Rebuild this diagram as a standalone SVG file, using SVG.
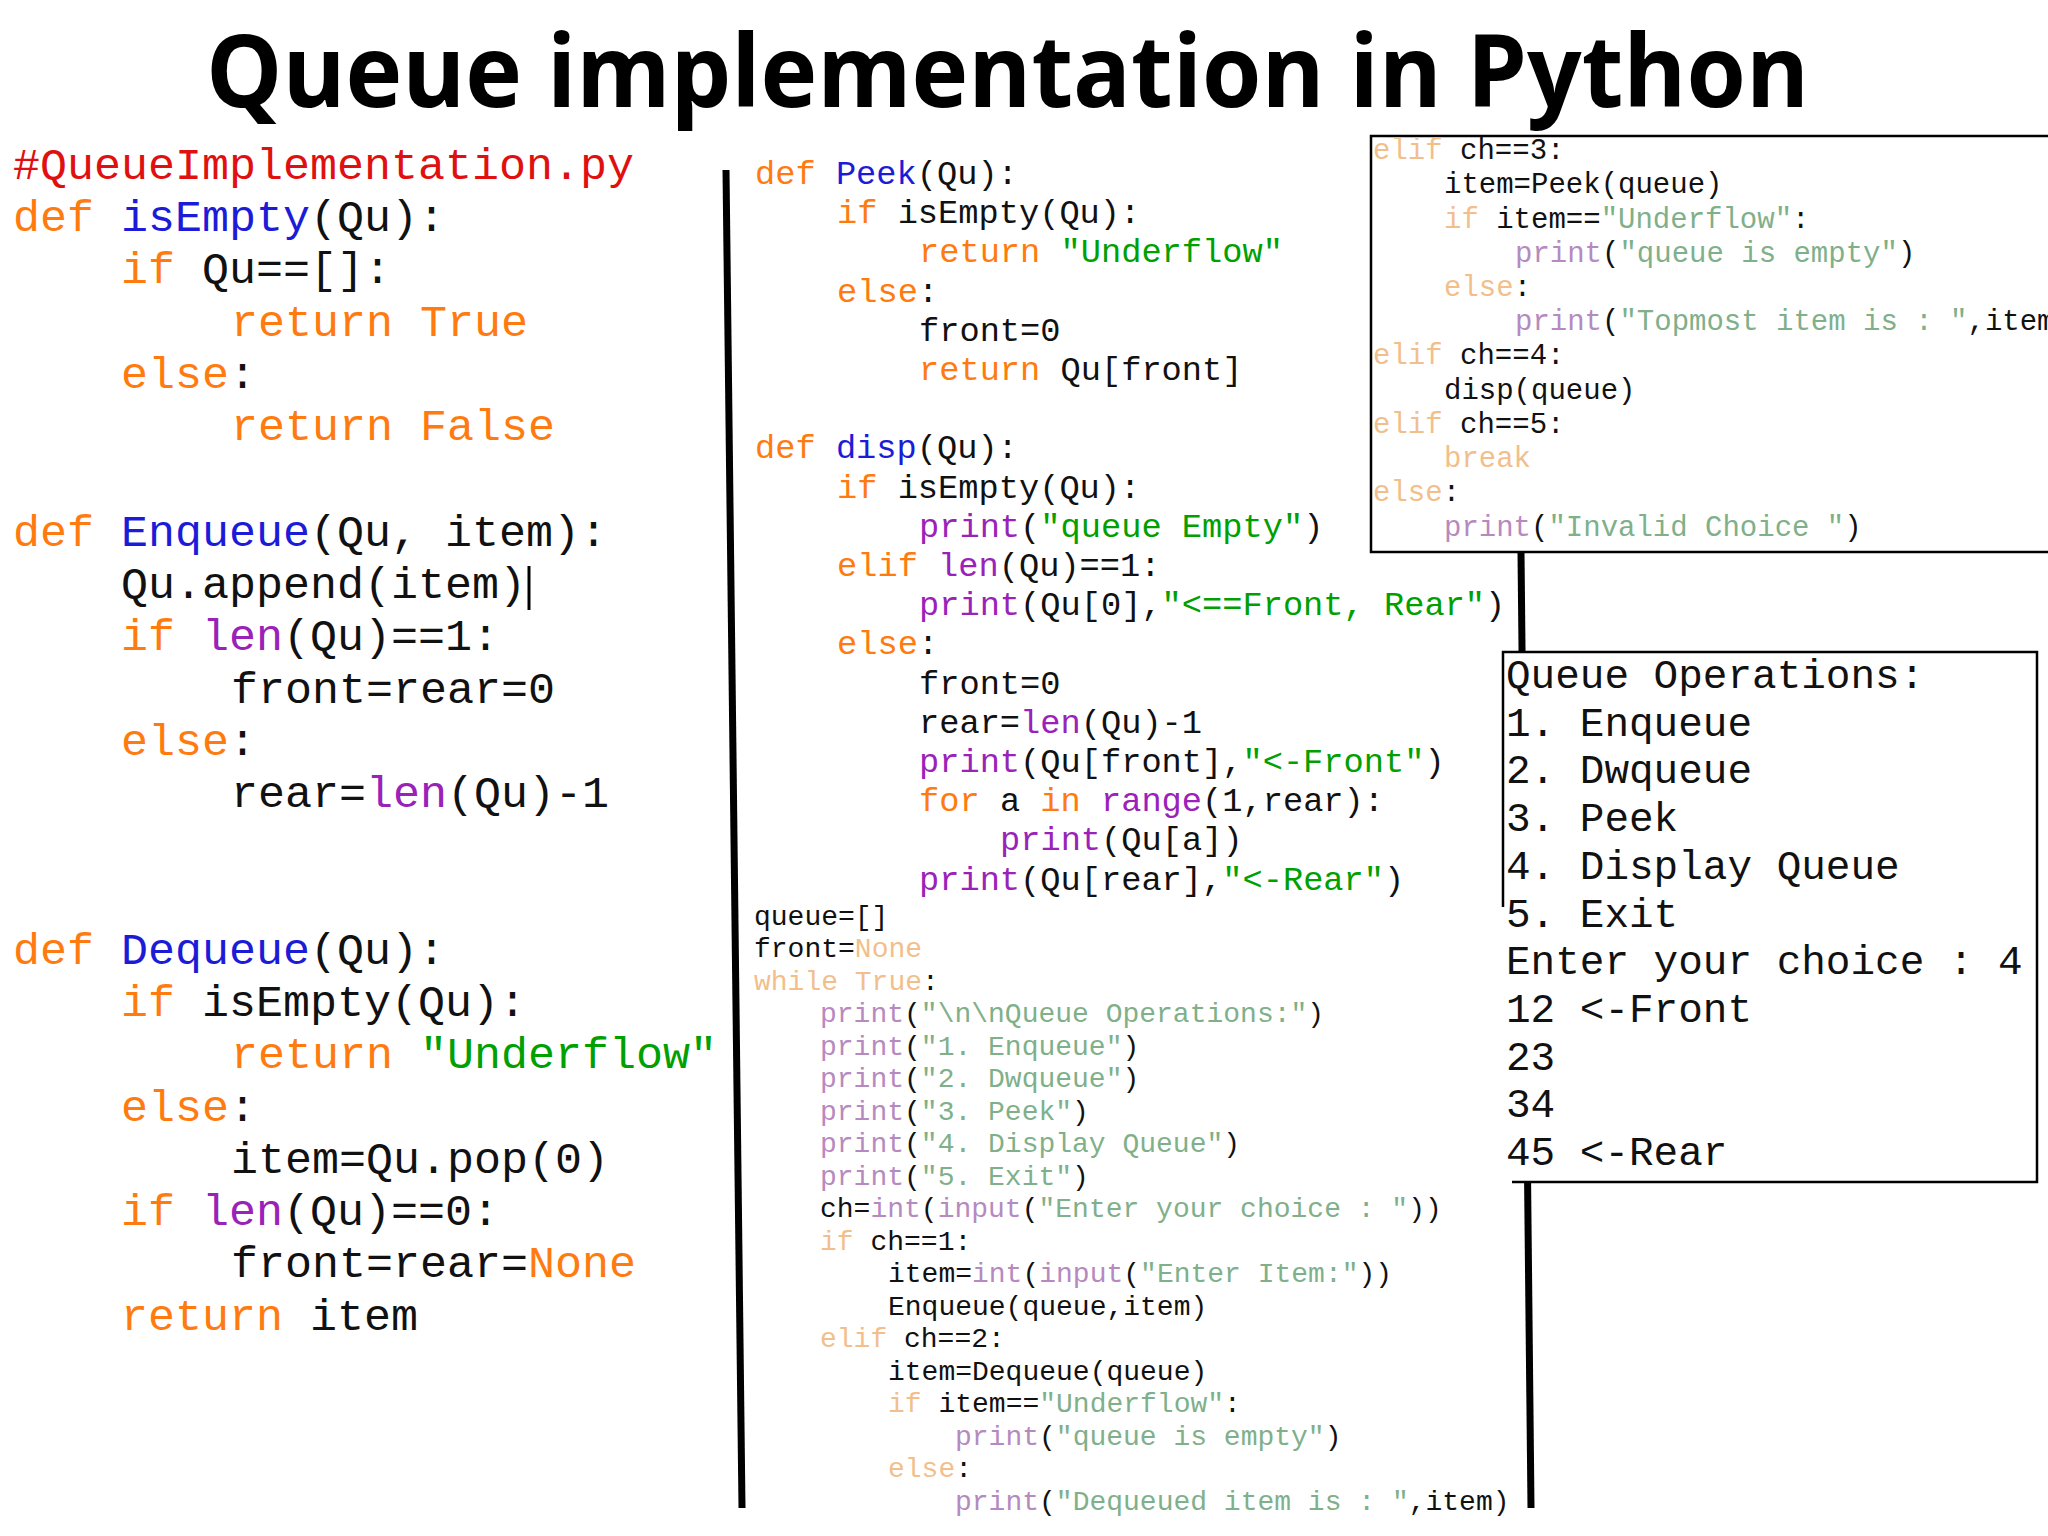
<svg xmlns="http://www.w3.org/2000/svg" width="2048" height="1536" viewBox="0 0 2048 1536">
<style>
text{font-family:"Liberation Mono","Courier New",monospace;fill:#111;white-space:pre}
.L{font-size:45px}
.M{font-size:33.7px}
.S{font-size:28px;fill:#444}
.R{font-size:29px;fill:#444}
.O{font-size:41px;fill:#1a1aff}
.k{fill:#ff7b10}.f{fill:#1c1cd8}.s{fill:#00a000}.p{fill:#9a22b8}.c{fill:#e01010}
.kf{fill:#f2bf8c}.sf{fill:#7fb08a}.pf{fill:#b68ac0}
.title{font-family:"Open Sans","Liberation Sans",sans-serif;font-weight:bold;font-size:100px;fill:#000}
</style>
<rect width="2048" height="1536" fill="#fff"/>
<text class="title" x="206" y="107" textLength="1603" lengthAdjust="spacingAndGlyphs">Queue implementation in Python</text>

<g id="lines">
<line x1="726" y1="170" x2="742" y2="1508" stroke="#000" stroke-width="7"/>
<line x1="1521" y1="552" x2="1531" y2="1508" stroke="#000" stroke-width="7"/>
</g>

<g id="left-code" class="L">
<text x="13" y="179" class="c">#QueueImplementation.py</text>
<text x="13" y="231"><tspan class="k">def </tspan><tspan class="f">isEmpty</tspan>(Qu):</text>
<text x="121" y="283"><tspan class="k">if </tspan>Qu==[]:</text>
<text x="231" y="336" class="k">return True</text>
<text x="121" y="388"><tspan class="k">else</tspan>:</text>
<text x="231" y="440" class="k">return False</text>
<text x="13" y="546"><tspan class="k">def </tspan><tspan class="f">Enqueue</tspan>(Qu, item):</text>
<text x="121" y="598">Qu.append(item)</text>
<line x1="529" y1="566" x2="529" y2="610" stroke="#000" stroke-width="3"/>
<text x="121" y="650"><tspan class="k">if </tspan><tspan class="p">len</tspan>(Qu)==1:</text>
<text x="231" y="703">front=rear=0</text>
<text x="121" y="755"><tspan class="k">else</tspan>:</text>
<text x="231" y="807">rear=<tspan class="p">len</tspan>(Qu)-1</text>
<text x="13" y="964"><tspan class="k">def </tspan><tspan class="f">Dequeue</tspan>(Qu):</text>
<text x="121" y="1016"><tspan class="k">if </tspan>isEmpty(Qu):</text>
<text x="231" y="1068"><tspan class="k">return </tspan><tspan class="s">"Underflow"</tspan></text>
<text x="121" y="1121"><tspan class="k">else</tspan>:</text>
<text x="231" y="1173">item=Qu.pop(0)</text>
<text x="121" y="1225"><tspan class="k">if </tspan><tspan class="p">len</tspan>(Qu)==0:</text>
<text x="231" y="1277">front=rear=<tspan class="k">None</tspan></text>
<text x="121" y="1330"><tspan class="k">return </tspan>item</text>
</g>

<g id="middle-code" class="M">
<text x="755" y="184"><tspan class="k">def </tspan><tspan class="f">Peek</tspan>(Qu):</text>
<text x="837" y="223"><tspan class="k">if </tspan>isEmpty(Qu):</text>
<text x="919" y="262"><tspan class="k">return </tspan><tspan class="s">"Underflow"</tspan></text>
<text x="837" y="302"><tspan class="k">else</tspan>:</text>
<text x="919" y="341">front=0</text>
<text x="919" y="380"><tspan class="k">return </tspan>Qu[front]</text>
<text x="755" y="458"><tspan class="k">def </tspan><tspan class="f">disp</tspan>(Qu):</text>
<text x="837" y="498"><tspan class="k">if </tspan>isEmpty(Qu):</text>
<text x="919" y="537"><tspan class="p">print</tspan>(<tspan class="s">"queue Empty"</tspan>)</text>
<text x="837" y="576"><tspan class="k">elif </tspan><tspan class="p">len</tspan>(Qu)==1:</text>
<text x="919" y="615"><tspan class="p">print</tspan>(Qu[0],<tspan class="s">"&lt;==Front, Rear"</tspan>)</text>
<text x="837" y="654"><tspan class="k">else</tspan>:</text>
<text x="919" y="694">front=0</text>
<text x="919" y="733">rear=<tspan class="p">len</tspan>(Qu)-1</text>
<text x="919" y="772"><tspan class="p">print</tspan>(Qu[front],<tspan class="s">"&lt;-Front"</tspan>)</text>
<text x="919" y="811"><tspan class="k">for </tspan>a <tspan class="k">in </tspan><tspan class="p">range</tspan>(1,rear):</text>
<text x="1000" y="850"><tspan class="p">print</tspan>(Qu[a])</text>
<text x="919" y="890"><tspan class="p">print</tspan>(Qu[rear],<tspan class="s">"&lt;-Rear"</tspan>)</text>
</g>

<g id="main-loop" class="S">
<text x="754" y="925">queue=[]</text>
<text x="754" y="957">front=<tspan class="kf">None</tspan></text>
<text x="754" y="990"><tspan class="kf">while True</tspan>:</text>
<text x="820" y="1022"><tspan class="pf">print</tspan>(<tspan class="sf">"\n\nQueue Operations:"</tspan>)</text>
<text x="820" y="1055"><tspan class="pf">print</tspan>(<tspan class="sf">"1. Enqueue"</tspan>)</text>
<text x="820" y="1087"><tspan class="pf">print</tspan>(<tspan class="sf">"2. Dwqueue"</tspan>)</text>
<text x="820" y="1120"><tspan class="pf">print</tspan>(<tspan class="sf">"3. Peek"</tspan>)</text>
<text x="820" y="1152"><tspan class="pf">print</tspan>(<tspan class="sf">"4. Display Queue"</tspan>)</text>
<text x="820" y="1185"><tspan class="pf">print</tspan>(<tspan class="sf">"5. Exit"</tspan>)</text>
<text x="820" y="1217">ch=<tspan class="pf">int</tspan>(<tspan class="pf">input</tspan>(<tspan class="sf">"Enter your choice : "</tspan>))</text>
<text x="820" y="1250"><tspan class="kf">if </tspan>ch==1:</text>
<text x="888" y="1282">item=<tspan class="pf">int</tspan>(<tspan class="pf">input</tspan>(<tspan class="sf">"Enter Item:"</tspan>))</text>
<text x="888" y="1315">Enqueue(queue,item)</text>
<text x="820" y="1347"><tspan class="kf">elif </tspan>ch==2:</text>
<text x="888" y="1380">item=Dequeue(queue)</text>
<text x="888" y="1412"><tspan class="kf">if </tspan>item==<tspan class="sf">"Underflow"</tspan>:</text>
<text x="955" y="1445"><tspan class="pf">print</tspan>(<tspan class="sf">"queue is empty"</tspan>)</text>
<text x="888" y="1477"><tspan class="kf">else</tspan>:</text>
<text x="955" y="1510"><tspan class="pf">print</tspan>(<tspan class="sf">"Dequeued item is : "</tspan>,item)</text>
</g>

<g id="choice-box">
<rect x="1371" y="136" width="690" height="416" fill="#fff" stroke="#000" stroke-width="2.5"/>
<g class="R">
<text x="1373" y="159"><tspan class="kf">elif </tspan>ch==3:</text>
<text x="1444" y="193">item=Peek(queue)</text>
<text x="1444" y="228"><tspan class="kf">if </tspan>item==<tspan class="sf">"Underflow"</tspan>:</text>
<text x="1515" y="262"><tspan class="pf">print</tspan>(<tspan class="sf">"queue is empty"</tspan>)</text>
<text x="1444" y="296"><tspan class="kf">else</tspan>:</text>
<text x="1515" y="330"><tspan class="pf">print</tspan>(<tspan class="sf">"Topmost item is : "</tspan>,item)</text>
<text x="1373" y="364"><tspan class="kf">elif </tspan>ch==4:</text>
<text x="1444" y="399">disp(queue)</text>
<text x="1373" y="433"><tspan class="kf">elif </tspan>ch==5:</text>
<text x="1444" y="467" class="kf">break</text>
<text x="1373" y="501"><tspan class="kf">else</tspan>:</text>
<text x="1444" y="536"><tspan class="pf">print</tspan>(<tspan class="sf">"Invalid Choice "</tspan>)</text>
</g>
</g>

<g id="output-box">
<rect x="1503" y="652" width="534" height="530" fill="#fff" stroke="none"/>
<path d="M1503 907 V652 H2037 V1182 H1512" fill="none" stroke="#000" stroke-width="2.5"/>
<g class="O">
<text x="1506" y="688">Queue Operations:</text>
<text x="1506" y="736">1. Enqueue</text>
<text x="1506" y="783">2. Dwqueue</text>
<text x="1506" y="831">3. Peek</text>
<text x="1506" y="879">4. Display Queue</text>
<text x="1506" y="927">5. Exit</text>
<text x="1506" y="974">Enter your choice : 4</text>
<text x="1506" y="1022">12 &lt;-Front</text>
<text x="1506" y="1070">23</text>
<text x="1506" y="1117">34</text>
<text x="1506" y="1165">45 &lt;-Rear</text>
</g>
</g>
</svg>
